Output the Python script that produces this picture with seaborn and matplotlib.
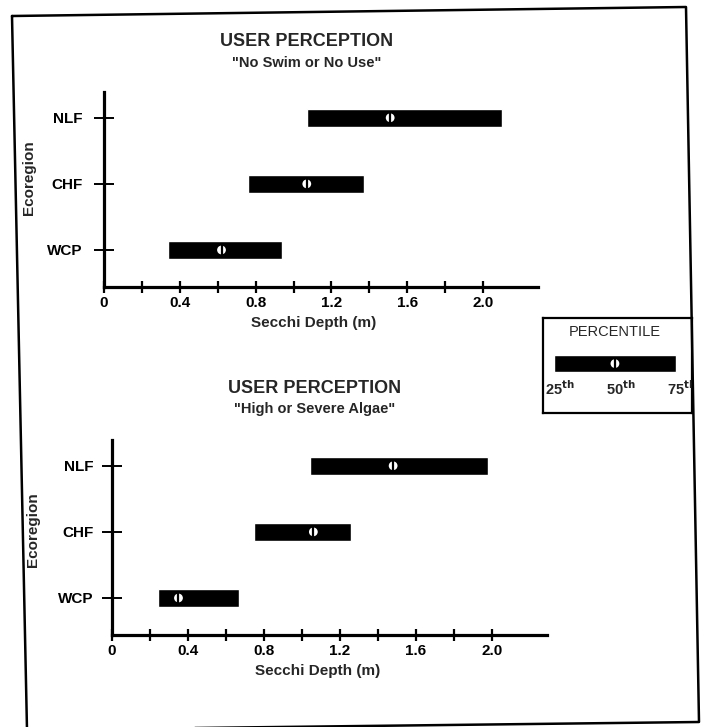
import numpy as np
import pandas as pd
import seaborn as sns
import matplotlib.pyplot as plt
from matplotlib.lines import Line2D

# Data (Secchi depth percentiles, m)
regions = ['WCP', 'CHF', 'NLF']
swim_p25 = [0.34, 0.76, 1.07]
swim_p50 = [0.62, 1.07, 1.51]
swim_p75 = [0.94, 1.37, 2.10]
algae_p25 = [0.24, 0.75, 1.04]
algae_p50 = [0.35, 1.06, 1.48]
algae_p75 = [0.67, 1.26, 1.98]

x_ticks = [0, 0.2, 0.4, 0.6, 0.8, 1.0, 1.2, 1.4, 1.6, 1.8, 2.0]
x_ticklabels = ['0', '', '0.4', '', '0.8', '', '1.2', '', '1.6', '', '2.0']
legend_pcts = [25, 50, 75]
legend_labels = [r'25$^{\mathbf{th}}$', r'50$^{\mathbf{th}}$', r'75$^{\mathbf{th}}$']

sns.set_theme(style='ticks')
plt.rcParams['font.family'] = ['Liberation Sans', 'DejaVu Sans']
plt.rcParams['font.weight'] = 'bold'
plt.rcParams['mathtext.default'] = 'bf'

W, H = 704, 727
fig = plt.figure(figsize=(W / 100, H / 100), dpi=100)


def px(x, y):
    return x / W, 1 - y / H


def draw_panel(ax, p25, p50, p75, ypad):
    pos = np.arange(len(regions))
    df = pd.DataFrame({'region': regions, 'pos': pos, 'p25': p25,
                       'p50': p50, 'p75': p75})
    ax.barh(df['pos'], df['p75'] - df['p25'], left=df['p25'], height=0.27,
            color='black', zorder=2)
    sns.scatterplot(data=df, x='p50', y='pos', ax=ax, marker='o', s=40,
                    color='white', edgecolor='none', zorder=3, legend=False)
    sns.scatterplot(data=df, x='p50', y='pos', ax=ax, marker='|', s=42,
                    color='black', linewidth=1.6, zorder=4, legend=False)
    ax.set_xlim(0, 2.29)
    ax.set_ylim(-0.56, 2.39)
    ax.set_xticks(x_ticks)
    ax.set_xticklabels(x_ticklabels)
    ax.set_yticks(pos)
    ax.set_yticklabels(regions)
    sns.despine(ax=ax)
    for s in ['left', 'bottom']:
        ax.spines[s].set_linewidth(2.3)
        ax.spines[s].set_color('black')
    ax.tick_params(axis='x', direction='inout', length=9, width=1.6,
                   labelsize=11, pad=2, colors='black')
    ax.tick_params(axis='y', direction='inout', length=14, width=1.4,
                   labelsize=11, pad=ypad, colors='black')
    ax.set_xlabel('Secchi Depth (m)', fontsize=11, fontweight='bold')
    ax.set_ylabel('Ecoregion', fontsize=11, fontweight='bold')
    ax.set_facecolor('none')


# top panel: "No Swim or No Use"
ax1 = fig.add_axes([104 / W, 1 - 287 / H, 434 / W, 195 / H])
draw_panel(ax1, swim_p25, swim_p50, swim_p75, ypad=8.5)
ax1.xaxis.set_label_coords(0.483, -0.148)
ax1.yaxis.set_label_coords(-0.157, 0.56)

# bottom panel: "High or Severe Algae"
ax2 = fig.add_axes([112 / W, 1 - 635 / H, 435 / W, 195 / H])
draw_panel(ax2, algae_p25, algae_p50, algae_p75, ypad=6.5)
ax2.xaxis.set_label_coords(0.472, -0.148)
ax2.yaxis.set_label_coords(-0.165, 0.54)

fig.text(*px(307, 46), 'USER PERCEPTION', ha='center', va='baseline',
         fontsize=13, fontweight='bold')
fig.text(*px(307, 67), '"No Swim or No Use"', ha='center', va='baseline',
         fontsize=10.5, fontweight='bold')
fig.text(*px(315, 393), 'USER PERCEPTION', ha='center', va='baseline',
         fontsize=13, fontweight='bold')
fig.text(*px(315, 413), '"High or Severe Algae"', ha='center', va='baseline',
         fontsize=10.5, fontweight='bold')

# legend box
lax = fig.add_axes([543 / W, 1 - 413 / H, 149 / W, 95 / H])
lax.set_xlim(20.5, 81.6)
lax.set_ylim(0, 1)
lax.set_xticks([])
lax.set_yticks([])
for s in lax.spines.values():
    s.set_linewidth(1.6)
    s.set_color('black')
lax.barh([0.52], [legend_pcts[2] - legend_pcts[0]], left=legend_pcts[0],
         height=0.18, color='black')
lax.scatter([legend_pcts[1]], [0.52], marker='o', s=40, color='white',
            edgecolor='none', zorder=3)
lax.scatter([legend_pcts[1]], [0.52], marker='|', s=42, color='black',
            linewidth=1.6, zorder=4)
lax.text(50, 0.85, 'PERCENTILE', ha='center', va='center', fontsize=10.5,
         fontweight='normal')
for v, lab in zip(legend_pcts, legend_labels):
    lax.text(v + 2.5, 0.26, lab, ha='center', va='center', fontsize=10.5,
             fontweight='bold', clip_on=True)

# outer page frame (scan is slightly skewed)
fx = [12, 686, 699, 27, 12]
fy = [16, 7, 722, 730, 16]
fig.add_artist(Line2D([x / W for x in fx], [1 - y / H for y in fy],
                      color='black', linewidth=1.8))

fig.savefig('out.png', dpi=100, facecolor='white')
